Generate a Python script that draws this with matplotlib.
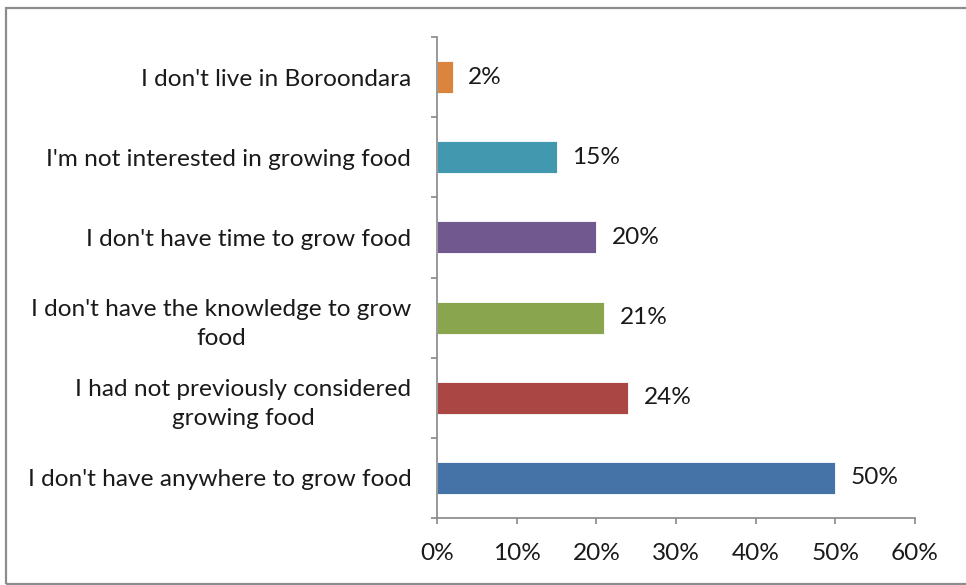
import matplotlib
matplotlib.use("Agg")
import matplotlib.pyplot as plt
from matplotlib.patches import Rectangle
from matplotlib.ticker import FixedLocator, PercentFormatter

plt.rcParams['font.family'] = ['Lato', 'DejaVu Sans']

# survey reasons, bottom to top
reasons = [
    "I don't have anywhere to grow food",
    "I had not previously considered\ngrowing food",
    "I don't have the knowledge to grow\nfood",
    "I don't have time to grow food",
    "I'm not interested in growing food",
    "I don't live in Boroondara",
]
shares = [50, 24, 21, 20, 15, 2]
colors = ['#4572A7', '#AA4643', '#89A54E', '#71588F', '#4198AF', '#DB843D']
xticks = [0, 10, 20, 30, 40, 50, 60]

FS = 17.6
W, H = 966, 585
fig = plt.figure(figsize=(W / 100, H / 100), dpi=100)
ax = fig.add_axes([437 / W, (H - 518) / H, (915 - 437) / W, (518 - 37) / H])

pos = list(range(len(reasons)))
bars = ax.barh(pos, shares, height=0.4, color=colors, edgecolor='white', linewidth=0.6)
for b, v in zip(bars, shares):
    ax.annotate(f"{v}%", (b.get_width(), b.get_y() + b.get_height() / 2),
                xytext=(11, 0), textcoords='offset points',
                va='center', ha='left', fontsize=FS, color='#1a1a1a')

ax.set_xlim(0, 60)
ax.set_ylim(-0.5, len(reasons) - 0.5)
ax.set_xticks(xticks)
ax.xaxis.set_major_formatter(PercentFormatter(decimals=0))
ax.set_yticks(pos)
ax.set_yticklabels(reasons, ha='right', multialignment='center', linespacing=1.5)
ax.yaxis.set_minor_locator(FixedLocator([p - 0.5 for p in pos] + [len(pos) - 0.5]))

for s in ['top', 'right']:
    ax.spines[s].set_visible(False)
for s in ['left', 'bottom']:
    ax.spines[s].set_color('#888888')
    ax.spines[s].set_linewidth(1.2)

ax.tick_params(axis='y', which='major', length=0, pad=18.5, labelsize=FS, labelcolor='#1a1a1a')
ax.tick_params(axis='y', which='minor', length=4.5, width=1.2, color='#888888')
ax.tick_params(axis='x', length=4.5, width=1.2, color='#888888', pad=13.5, labelsize=FS, labelcolor='#1a1a1a')

# outer chart frame
fig.add_artist(Rectangle((6 / W, 1 / H), 1.2, 576 / H, transform=fig.transFigure,
                         fill=False, edgecolor='#8c8c8c', linewidth=1.6))

fig.savefig('out.png', dpi=100)
